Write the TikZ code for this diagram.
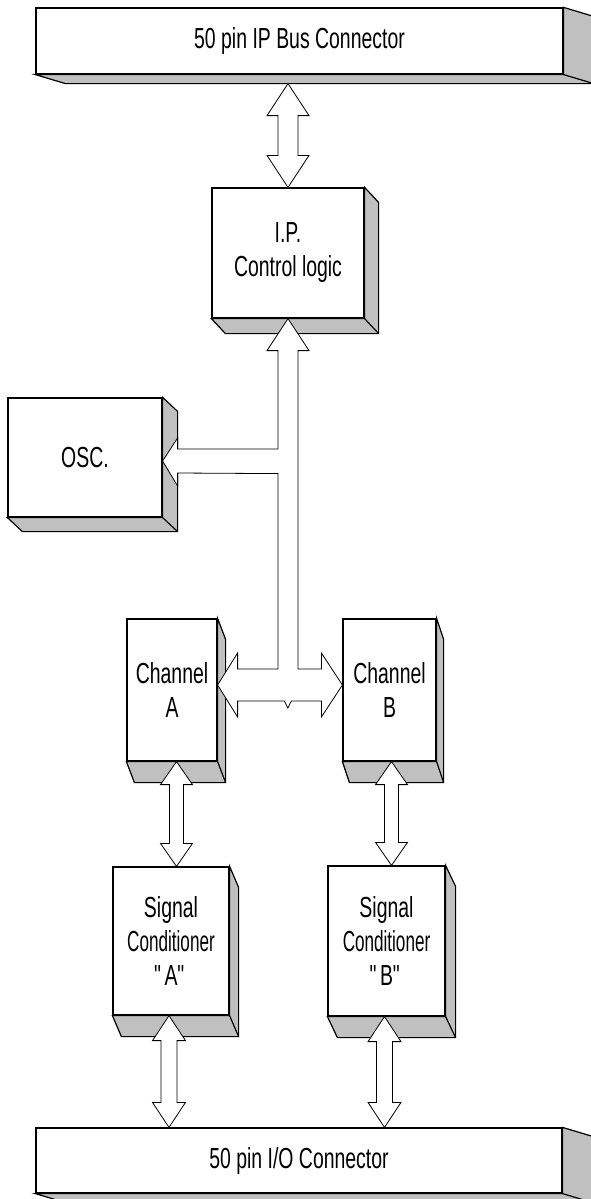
\documentclass[tikz,border=0pt]{standalone}
\usepackage{fontspec}
\setmainfont{Liberation Sans}[FakeStretch=0.67]
\newfontfamily\condfont{Liberation Sans}[FakeStretch=0.59]
\usetikzlibrary{calc}
\definecolor{sidegray}{RGB}{192,192,192}

\begin{document}
\begin{tikzpicture}[x=1pt,y=-1pt,
block/.style={
% The shape:
rectangle,
draw=black,
fill=white,
line width=1.2pt,
inner sep=0pt,
align=center,
font=\fontsize{29}{34}\selectfont
},
side/.style={
draw=black,
fill=sidegray,
line width=1.2pt
},
busline/.style={
draw=black,
fill=white,
line width=0.8pt
},
bus/.style args={#1/#2/#3}{busline,
to path={let \p1=(\tikztostart), \p2=(\tikztotarget) in
(\x1,\y1) -- (\x1+#2,\y1-#3) -- (\x1+#1,\y1-#3) -- (\x1+#1,\y2+#3) -- (\x1+#2,\y2+#3)
-- (\x1,\y2) -- (\x1-#2,\y2+#3) -- (\x1-#1,\y2+#3) -- (\x1-#1,\y1-#3) -- (\x1-#2,\y1-#3) -- cycle}
}
]
\useasboundingbox (0,0) rectangle (590,1199);

% Blocks:
\node (ipbus) [block, minimum width=527pt, minimum height=66pt] at (299.5,41) {50 pin IP Bus Connector};
\node (ctrl) [block, minimum width=152pt, minimum height=130pt] at (288,253) {I.P.\\Control logic};
\node (osc) [block, minimum width=154pt, minimum height=119pt] at (85,457.5) {OSC.};
\node (cha) [block, minimum width=90pt, minimum height=142pt] at (172,690) {Channel\\A};
\node (chb) [block, minimum width=93pt, minimum height=142pt] at (389.5,690) {Channel\\B};
\node (sca) [block, minimum width=116pt, minimum height=148pt] at (171,941) {Signal\\{\condfont Conditioner}\\\textquotedbl A\textquotedbl};
\node (scb) [block, minimum width=117pt, minimum height=150pt] at (386.5,941) {Signal\\{\condfont Conditioner}\\\textquotedbl B\textquotedbl};
\node (iobus) [block, minimum width=526pt, minimum height=65pt] at (299,1160.5) {50 pin I/O Connector};

% Raised sides:
\foreach \nm/\dx/\dy in {ipbus/30/9, ctrl/14/15, osc/15/14, cha/8/21, chb/7/21, sca/9/21, scb/10/21, iobus/30/9}{
\draw[side] (\nm.north east) -- ++(\dx,\dy) -- ($(\nm.south east)+(\dx,\dy)$) -- ($(\nm.south west)+(\dx,\dy)$)
  -- (\nm.south west) -- (\nm.south east) -- cycle;
\draw[side] (\nm.south east) -- ++(\dx,\dy);
}

% Internal bus:
\coordinate (tb) at ([yshift=5pt]chb.west);
\coordinate (ta) at ([yshift=5pt]cha.east);
\coordinate (tosc) at ([yshift=-3.5pt]osc.east);
\draw[busline] (ctrl.south) -- ++(21,32) -- ++(-11,0)
  |- ($(tb)+(-21,-16)$) -- ++(0,-16) -- (tb) -- ++(-21,32) -- ++(0,-16)
  -- ++(-30,0) -- ++(-3.5,7) -- ++(-3.5,-7) -- ($(ta)+(20,16)$) -- ++(0,16)
  -- (ta) -- ++(20,-32) -- ++(0,16)
  -| ($(ctrl.south)+(-10,155)$) -- ($(tosc)+(15,12)$) -- ++(0,13)
  -- (tosc) -- ++(15,-23) -- ++(0,11)
  -| ($(ctrl.south)+(-10,32)$) -- ++(-11,0) -- cycle;

% Vertical links:
\coordinate (a1) at ([xshift=4.5pt]cha.south);
\coordinate (b1) at ([xshift=2pt]chb.south);
\coordinate (a2) at ([xshift=-2pt]sca.south);
\coordinate (b2) at ([xshift=-2pt]scb.south);
\draw[bus=10pt/21pt/32pt] ($(ipbus.south -| ctrl.north)+(0,9)$) to (ctrl.north);
\draw[bus=7pt/16pt/23pt] (a1) to (a1 |- sca.north);
\draw[bus=7pt/16pt/23pt] (b1) to (b1 |- scb.north);
\draw[bus=8pt/16.5pt/25pt] (a2) to (a2 |- iobus.north);
\draw[bus=8pt/16.5pt/25pt] (b2) to (b2 |- iobus.north);
\end{tikzpicture}
\end{document}
